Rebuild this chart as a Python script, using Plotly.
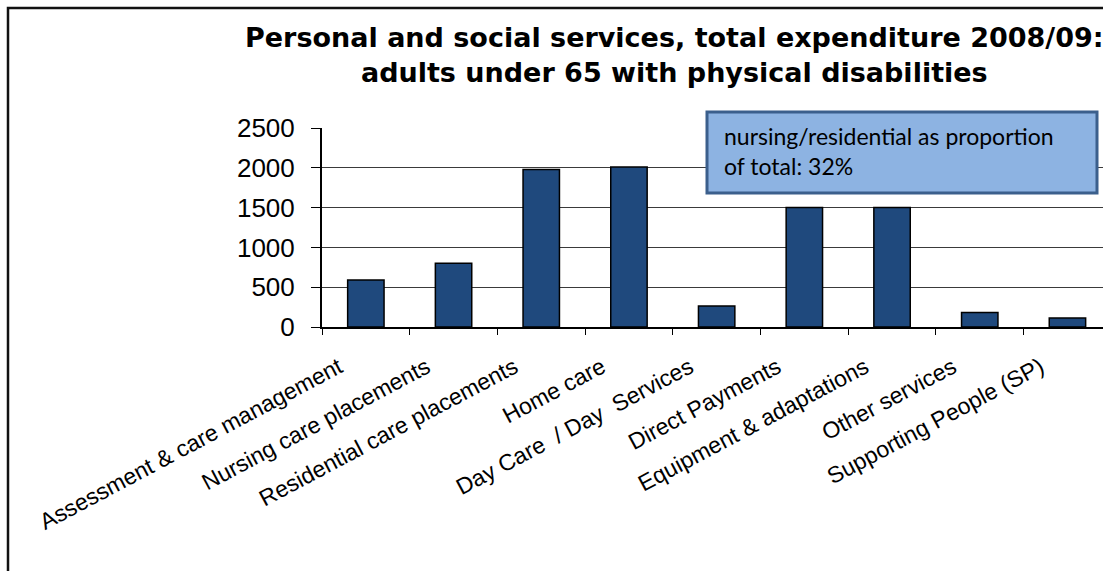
import plotly.graph_objects as go

# Expenditure by service, adults under 65 with physical disabilities (2008/09)
categories = [
    "Assessment & care management",
    "Nursing care placements",
    "Residential care placements",
    "Home care",
    "Day Care  / Day  Services",
    "Direct Payments",
    "Equipment & adaptations",
    "Other services",
    "Supporting People (SP)",
]
expenditure = [590, 800, 1980, 2010, 265, 1500, 1500, 181, 113]

y_ticks = [0, 500, 1000, 1500, 2000, 2500]

title_lines = [
    "Personal and social services, total expenditure 2008/09:",
    "adults under 65 with physical disabilities",
]
note_lines = ["nursing/residential as proportion", "of total: 32%"]

W, H = 1103, 571
PLOT_L, PLOT_R, PLOT_T, PLOT_B = 322, 1103, 128, 327
CAT_W = 87.7


def px_x(x):
    return (x - PLOT_L) / (PLOT_R - PLOT_L)


def px_y(y):
    return (PLOT_B - y) / (PLOT_B - PLOT_T)


fig = go.Figure(
    go.Bar(
        x=categories,
        y=expenditure,
        marker=dict(color="#1F497D", line=dict(color="#000000", width=1.5)),
        width=0.415,
        hoverinfo="x+y",
    )
)

visible_cats = (PLOT_R - PLOT_L) / CAT_W

fig.update_layout(
    width=W,
    height=H,
    margin=dict(l=PLOT_L, r=W - PLOT_R, t=PLOT_T, b=H - PLOT_B),
    paper_bgcolor="white",
    plot_bgcolor="white",
    showlegend=False,
    font=dict(family="Liberation Sans, Arial, sans-serif", color="#000000"),
    xaxis=dict(
        type="category",
        range=[-0.5, -0.5 + visible_cats],
        tickson="boundaries",
        ticks="outside",
        ticklen=6,
        tickcolor="#000000",
        tickwidth=1,
        showline=True,
        linecolor="#000000",
        linewidth=2,
        showgrid=False,
        tickangle=-28,
        ticklabelshift=-27,
        ticklabelstandoff=16,
        tickfont=dict(size=23, family="Liberation Sans, Arial, sans-serif"),
        fixedrange=True,
    ),
    yaxis=dict(
        range=[0, 2500],
        tickvals=y_ticks,
        ticks="outside",
        ticklen=9,
        tickcolor="#000000",
        tickwidth=1,
        showline=True,
        linecolor="#000000",
        linewidth=2,
        showgrid=True,
        gridcolor="#3a3a3a",
        gridwidth=1,
        zeroline=False,
        ticklabelstandoff=11,
        tickfont=dict(size=26, family="Liberation Sans, Arial, sans-serif"),
        fixedrange=True,
    ),
)

# chart frame (top and left edges)
fig.add_shape(
    type="path",
    xref="paper",
    yref="paper",
    path=f"M {px_x(8)},{px_y(H + 10)} L {px_x(8)},{px_y(8)} L {px_x(W + 10)},{px_y(8)}",
    line=dict(color="#111111", width=2.5),
    layer="above",
)

# title
fig.add_annotation(
    xref="paper",
    yref="paper",
    x=px_x(674),
    y=px_y(20),
    xanchor="center",
    yanchor="top",
    text="<b>" + "<br>".join(title_lines) + "</b>",
    showarrow=False,
    font=dict(size=27, family="DejaVu Sans, Liberation Sans, sans-serif", color="#000000"),
    align="center",
)

# note box
fig.add_shape(
    type="rect",
    xref="paper",
    yref="paper",
    x0=px_x(707),
    x1=px_x(1097),
    y0=px_y(193),
    y1=px_y(112),
    fillcolor="#8DB3E2",
    line=dict(color="#3B5F8C", width=3),
    layer="above",
)
fig.add_annotation(
    xref="paper",
    yref="paper",
    x=px_x(722),
    y=px_y(120),
    xanchor="left",
    yanchor="top",
    text="<br>".join(note_lines),
    showarrow=False,
    align="left",
    font=dict(size=23, family="Lato, Carlito, Calibri, sans-serif", color="#000000"),
)

fig.write_html("out.html")
